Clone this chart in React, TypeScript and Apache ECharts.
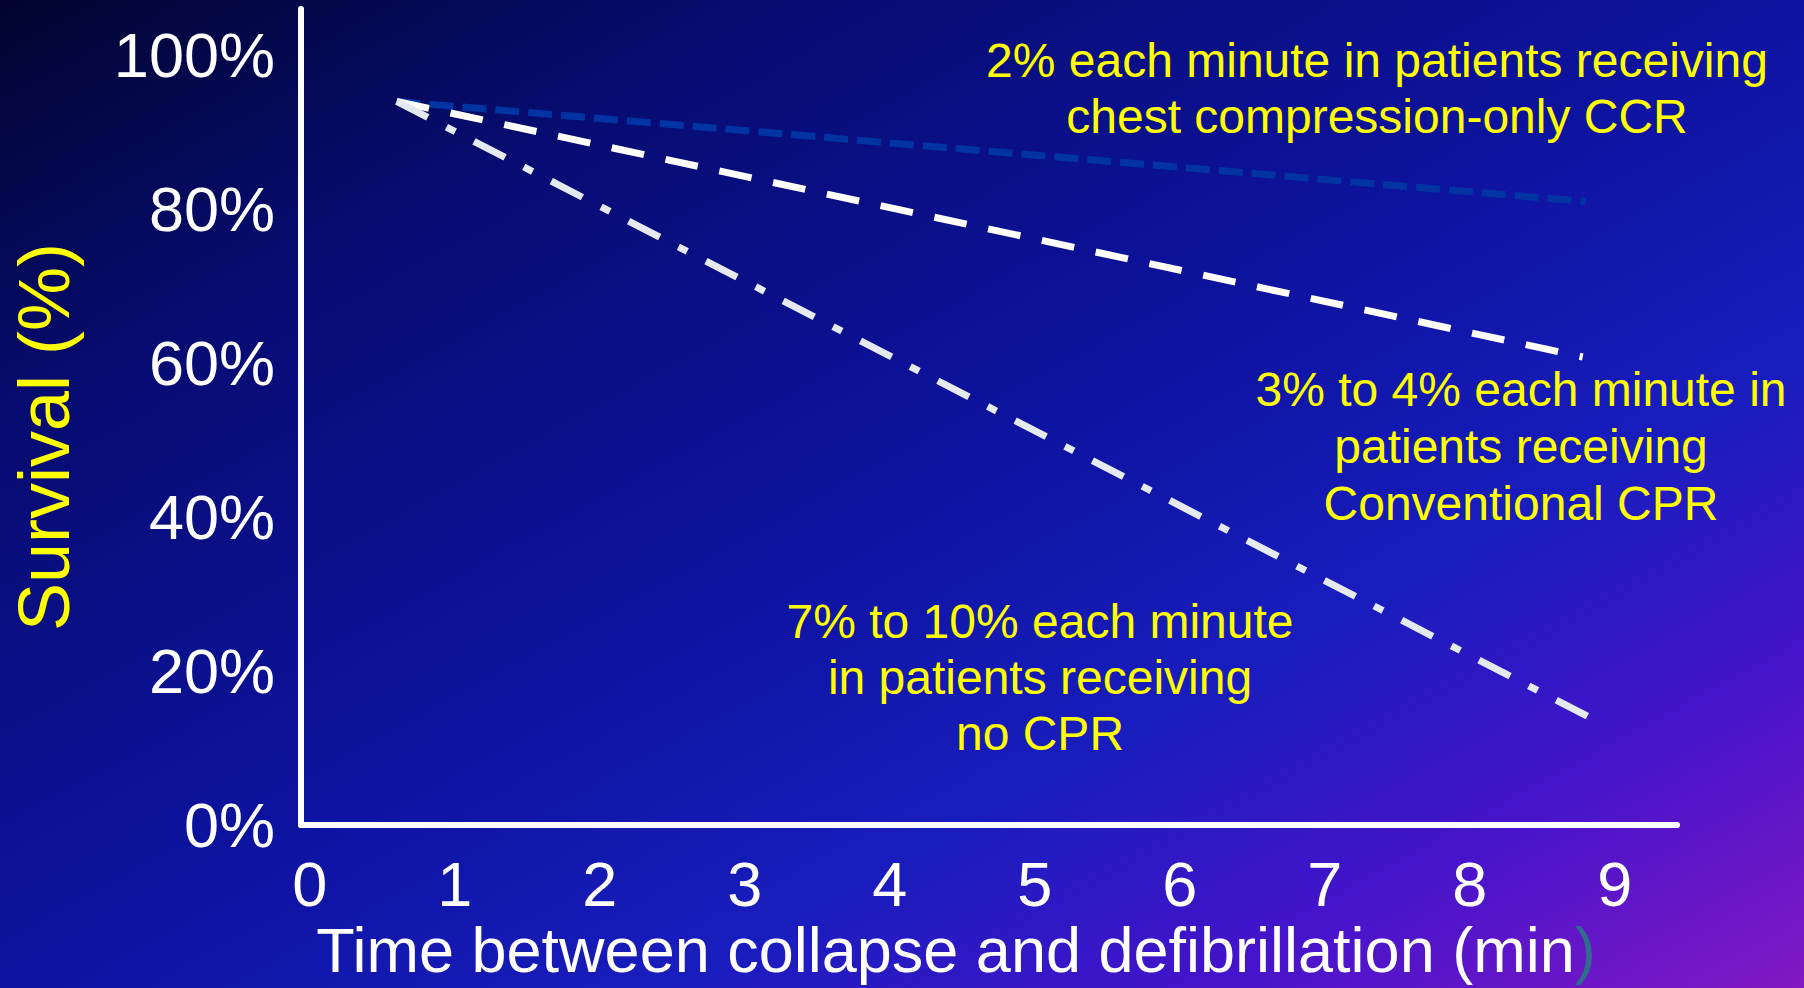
import React, { useEffect, useRef } from "react";
import * as echarts from "echarts";

// ---- data ----
const xTickValues = [0, 1, 2, 3, 4, 5, 6, 7, 8, 9];
const yTickValues = [0, 20, 40, 60, 80, 100];

// [minutes, survival %]
const ccrLine = [
  [0.6, 94],
  [8.8, 81],
];
const conventionalLine = [
  [0.6, 94],
  [8.78, 60.8],
];
const noCprLine = [
  [0.6, 94],
  [8.93, 13],
];

const ccrText = "2% each minute in patients receiving\nchest compression-only CCR";
const conventionalText = "3% to 4% each minute in\npatients receiving\nConventional CPR";
const noCprText = "7% to 10% each minute\nin patients receiving\nno CPR";
const xTitle = "Time between collapse and defibrillation (min";
const yTitle = "Survival (%)";

const FONT = '"Liberation Sans", Arial, Helvetica, sans-serif';

export default function App() {
  const ref = useRef<HTMLDivElement>(null);

  useEffect(() => {
    if (!ref.current) return;
    const chart = echarts.init(ref.current, undefined, { renderer: "svg" });

    const option: any = {
      animation: false,
      backgroundColor: new echarts.graphic.LinearGradient(0, 0, 1, 1, [
        { offset: 0, color: "#02042e" },
        { offset: 0.22, color: "#070c72" },
        { offset: 0.5, color: "#0e13a0" },
        { offset: 0.68, color: "#181dbd" },
        { offset: 0.83, color: "#4414cb" },
        { offset: 1, color: "#8218c4" },
      ]),
      grid: { left: 301, right: 127, top: 9, bottom: 163, containLabel: false },
      xAxis: {
        type: "value",
        min: -0.06,
        max: 9.43,
        axisLine: { show: true, onZero: false, lineStyle: { color: "#ffffff", width: 6 } },
        axisTick: { show: false },
        splitLine: { show: false },
        axisLabel: {
          customValues: xTickValues,
          color: "#ffffff",
          fontSize: 63,
          fontFamily: FONT,
          margin: 27,
        },
      },
      yAxis: {
        type: "value",
        min: 0,
        max: 106,
        axisLine: { show: true, onZero: false, lineStyle: { color: "#ffffff", width: 6 } },
        axisTick: { show: false },
        splitLine: { show: false },
        axisLabel: {
          customValues: yTickValues,
          formatter: "{value}%",
          color: "#ffffff",
          fontSize: 63,
          fontFamily: FONT,
          margin: 26,
        },
      },
      series: [
        {
          name: "Chest compression-only CCR",
          type: "line",
          data: ccrLine,
          symbol: "none",
          clip: false,
          lineStyle: { color: "#0034a2", width: 7, type: [24, 9], cap: "butt" },
        },
        {
          name: "Conventional CPR",
          type: "line",
          data: conventionalLine,
          symbol: "none",
          clip: false,
          lineStyle: { color: "#ffffff", width: 7, type: [33, 22], cap: "butt" },
        },
        {
          name: "No CPR",
          type: "line",
          data: noCprLine,
          symbol: "none",
          clip: false,
          lineStyle: { color: "#e4eaf0", width: 7, type: [35, 21, 10, 21], cap: "butt" },
        },
      ],
      graphic: [
        {
          type: "text",
          x: 1377,
          y: 88,
          silent: true,
          style: {
            text: ccrText,
            fill: "#ffff00",
            fontSize: 48,
            fontFamily: FONT,
            lineHeight: 56,
            align: "center",
            verticalAlign: "middle",
          },
        },
        {
          type: "text",
          x: 1521,
          y: 446,
          silent: true,
          style: {
            text: conventionalText,
            fill: "#ffff00",
            fontSize: 48,
            fontFamily: FONT,
            lineHeight: 57,
            align: "center",
            verticalAlign: "middle",
          },
        },
        {
          type: "text",
          x: 1040,
          y: 677,
          silent: true,
          style: {
            text: noCprText,
            fill: "#ffff00",
            fontSize: 48,
            fontFamily: FONT,
            lineHeight: 56,
            align: "center",
            verticalAlign: "middle",
          },
        },
        {
          type: "text",
          x: 956,
          y: 950,
          silent: true,
          style: {
            text: xTitle + "{p|)}",
            fill: "#ffffff",
            fontSize: 63,
            fontFamily: FONT,
            align: "center",
            verticalAlign: "middle",
            rich: {
              p: { fill: "#2f6d8c", fontSize: 63, fontFamily: FONT },
            },
          },
        },
        {
          type: "text",
          x: 44,
          y: 437,
          rotation: Math.PI / 2,
          silent: true,
          style: {
            text: yTitle,
            fill: "#ffff00",
            fontSize: 72,
            fontFamily: FONT,
            align: "center",
            verticalAlign: "middle",
          },
        },
      ],
    };

    chart.setOption(option);
    return () => chart.dispose();
  }, []);

  return (
    <div
      ref={ref}
      style={{ position: "fixed", left: 0, top: 0, width: 1804, height: 988 }}
    />
  );
}
